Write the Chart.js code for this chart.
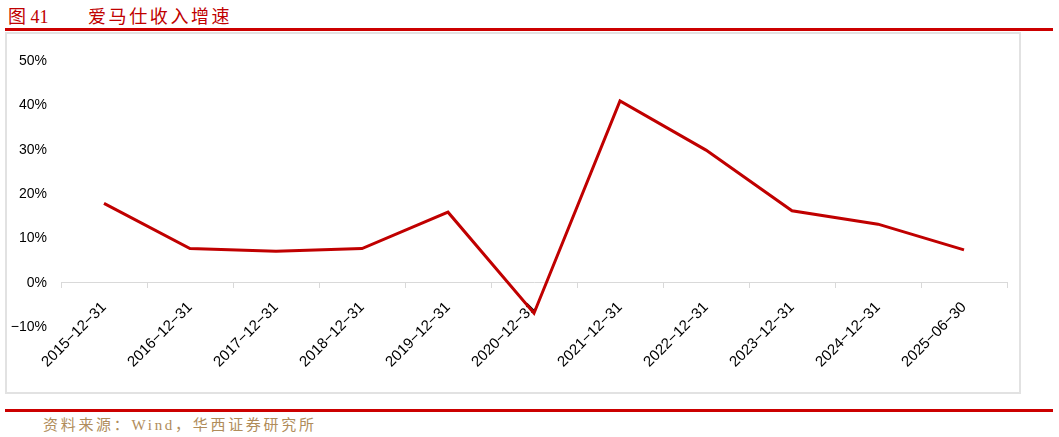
<!DOCTYPE html>
<html>
<head>
<meta charset="utf-8">
<script src="https://cdn.jsdelivr.net/npm/chart.js@4/dist/chart.umd.min.js"></script>
<style>
  html, body { margin: 0; padding: 0; background: #fff; }
  #wrap { position: relative; width: 1059px; height: 437px; overflow: hidden; }
  .title { position: absolute; left: 8px; top: 2px; color: #c00000; font-size: 18px;
           font-family: "Liberation Serif", "Noto Sans CJK SC", serif; white-space: nowrap; }
  .title .name { position: absolute; left: 80px; top: 0; letter-spacing: 2.6px; }
  .rule { position: absolute; left: 5px; width: 1048px; height: 3px; background: #cc0000; }
  .box { position: absolute; left: 5px; top: 32px; width: 1012px; height: 358px; border: 2px solid #e2e2e2; }
  .source { position: absolute; left: 43px; top: 413px; color: #b08c5a; font-size: 15px; letter-spacing: 2.7px;
            font-family: "Liberation Serif", "Noto Sans CJK SC", serif; white-space: nowrap; }
  canvas { position: absolute; left: 0; top: 0; }
</style>
</head>
<body>
<div id="wrap">
  <div class="title">图 41<span class="name">爱马仕收入增速</span></div>
  <div class="rule" style="top:28px"></div>
  <div class="box"></div>
  <div class="rule" style="top:409px"></div>
  <div class="source">资料来源：Wind，华西证券研究所</div>
  <canvas id="chart" width="1059" height="437"></canvas>
</div>
<script>
// 爱马仕收入增速 (%)
const periods = ['2015-12-31', '2016-12-31', '2017-12-31', '2018-12-31', '2019-12-31', '2020-12-31',
                 '2021-12-31', '2022-12-31', '2023-12-31', '2024-12-31', '2025-06-30'];
const growth = [17.9, 7.7, 7.1, 7.7, 15.9, -6.9, 41.0, 29.9, 16.2, 13.2, 7.4];
const yTicks = [-10, 0, 10, 20, 30, 40, 50];

const font = size => ({ family: '"Liberation Sans", Arial, sans-serif', size: size });

new Chart(document.getElementById('chart'), {
  type: 'line',
  data: {
    labels: periods,
    datasets: [{
      data: growth,
      borderColor: '#c00000',
      borderWidth: 3,
      pointRadius: 0,
      tension: 0,
      fill: false
    }]
  },
  options: {
    responsive: false,
    animation: false,
    layout: { padding: { left: 0, top: 61, right: 52, bottom: 110 } },
    plugins: { legend: { display: false }, tooltip: { enabled: false } },
    scales: {
      x: {
        offset: true,
        position: { y: 0 },
        grid: { offset: true, drawOnChartArea: false, drawTicks: true, tickLength: 5, color: '#d9d9d9', lineWidth: 1 },
        border: { color: '#d9d9d9', width: 1 },
        ticks: {
          color: '#000',
          font: font(15),
          minRotation: 45,
          maxRotation: 45,
          padding: 11,
          autoSkip: false,
          callback: function (v) { return this.getLabelForValue(v).replace(/-/g, '\u2212'); }
        }
      },
      y: {
        min: -10,
        max: 50,
        afterBuildTicks: s => { s.ticks = yTicks.map(v => ({ value: v })); },
        afterFit: s => { s.width = 61; },
        grid: { display: false, drawTicks: false },
        border: { display: false },
        ticks: {
          color: '#000',
          font: font(14),
          padding: 14,
          callback: v => (v < 0 ? '\u2212' + Math.abs(v) : v) + '%'
        }
      }
    }
  }
});
</script>
</body>
</html>
